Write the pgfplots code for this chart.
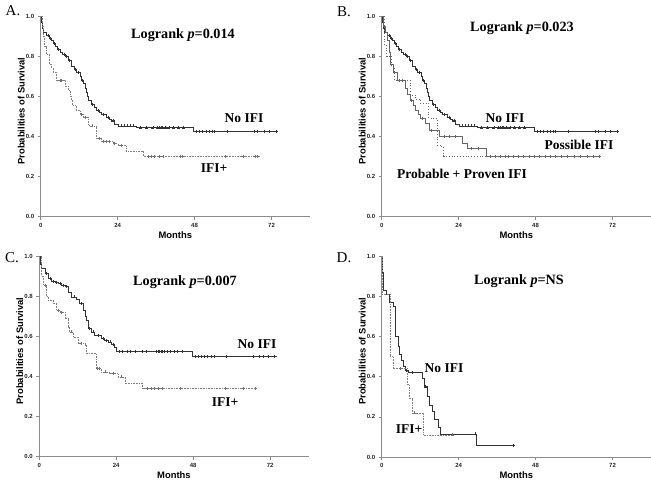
\documentclass[border=0pt]{standalone}
\usepackage{fontspec}
\setmainfont{Liberation Serif}
\setsansfont{Liberation Sans}
\usepackage{pgfplots}
\usepackage{pgfplotstable}
\pgfplotsset{compat=1.18}

\pgfplotstableread{
t S
0 1.0
0.3 0.97
0.6 0.94
0.9 0.92
1.9 0.905
2.8 0.89
3.4 0.88
4.0 0.865
4.5 0.85
5.2 0.835
6.0 0.82
6.8 0.81
7.6 0.80
8.6 0.78
9.6 0.75
10.4 0.735
11.2 0.72
12.2 0.70
12.8 0.68
13.3 0.665
13.8 0.64
14.1 0.62
14.5 0.60
14.8 0.58
15.9 0.56
16.6 0.545
17.4 0.53
18.2 0.52
19.0 0.51
20.5 0.495
21.4 0.485
22.1 0.478
23.1 0.46
24.1 0.452
29.8 0.443
47.6 0.424
74.0 0.424
}\noifiA

\pgfplotstableread{
t S
2.3 0.905
3.0 0.89
4.2 0.865
5.5 0.835
7.2 0.81
8.0 0.80
9.0 0.78
10.8 0.735
11.6 0.72
13.0 0.68
16.2 0.56
17.8 0.53
19.5 0.51
21.0 0.495
22.5 0.478
25 0.452
26 0.452
27 0.452
28 0.452
29 0.452
31 0.443
33 0.443
35 0.443
36.5 0.443
37 0.443
37.5 0.443
38 0.443
39 0.443
40 0.443
41.5 0.443
43 0.443
44.5 0.443
48.5 0.424
49.5 0.424
50.5 0.424
51.5 0.424
52.5 0.424
53.5 0.424
54.2 0.424
58.3 0.424
66.6 0.424
67.6 0.424
69.7 0.424
71.3 0.424
73.4 0.424
}\noifiAc

\pgfplotstableread{
t S
0 1.0
0.5 0.95
0.83 0.90
1.2 0.85
1.87 0.81
2.7 0.76
3.4 0.74
3.9 0.72
5.0 0.68
7.6 0.65
8.6 0.63
9.1 0.60
9.5 0.58
9.9 0.556
11.0 0.53
12.2 0.51
13.2 0.495
14.8 0.457
15.3 0.452
17.4 0.39
19.0 0.374
22.6 0.365
24.1 0.354
26.7 0.327
31.9 0.302
68.2 0.302
}\ifiA

\pgfplotstableread{
t S
6.0 0.68
6.5 0.68
12.8 0.51
14.0 0.495
16.0 0.452
18.2 0.39
19.5 0.374
20.3 0.374
21.5 0.374
23.0 0.365
25.0 0.354
33.5 0.302
34.5 0.302
35.5 0.302
37.1 0.302
38.1 0.302
43.5 0.302
44.3 0.302
57.5 0.302
63.2 0.302
66.8 0.302
67.7 0.302
}\ifiAc

\pgfplotstableread{
t S
0 1
0.5 0.95
1.0 0.92
1.6 0.88
2.2 0.82
2.8 0.76
3.5 0.72
4.7 0.68
7.3 0.64
8.0 0.61
8.9 0.58
9.7 0.555
10.5 0.53
11.3 0.51
12.1 0.49
13.7 0.465
14.7 0.43
17.9 0.40
25.2 0.365
26.8 0.34
32.6 0.302
68.4 0.302
}\possB

\pgfplotstableread{
t S
5.5 0.68
6.3 0.68
9.3 0.58
12.8 0.49
15.5 0.43
19.5 0.40
21 0.40
23 0.40
28 0.34
30 0.34
34 0.302
35.5 0.302
37 0.302
38.5 0.302
39.5 0.302
41 0.302
42.5 0.302
44 0.302
46 0.302
47.5 0.302
49 0.302
51 0.302
52.5 0.302
54 0.302
56 0.302
58 0.302
60 0.302
62 0.302
64 0.302
66 0.302
68 0.302
}\possBc

\pgfplotstableread{
t S
0 1
0.8 0.86
1.5 0.80
3.1 0.75
3.9 0.68
8.9 0.606
10.5 0.585
12.1 0.565
14.7 0.49
17.4 0.357
18.4 0.349
19.4 0.302
32.6 0.302
}\probB

\pgfplotstableread{
t S
0 1
0.3 0.96
0.72 0.937
1.76 0.912
2.8 0.887
3.8 0.875
4.9 0.87
5.9 0.862
7.0 0.855
8.0 0.849
9.0 0.82
10.0 0.796
11.6 0.783
12.6 0.763
13.6 0.73
14.2 0.70
14.7 0.68
15.2 0.64
16.2 0.622
17.3 0.605
19.3 0.589
20.4 0.58
21.4 0.572
22.4 0.56
23.5 0.547
24.0 0.525
47.6 0.50
74.0 0.50
}\noifiC

\pgfplotstableread{
t S
2.2 0.912
3.3 0.887
4.3 0.875
5.4 0.87
6.5 0.862
7.5 0.855
8.5 0.849
10.8 0.796
13.0 0.763
15.7 0.64
16.8 0.622
18.3 0.605
19.8 0.589
21 0.58
22 0.572
23 0.56
25 0.525
26 0.525
27.5 0.525
28.5 0.525
30 0.525
32 0.525
33.5 0.525
36.5 0.525
37 0.525
37.5 0.525
38 0.525
38.5 0.525
39 0.525
40 0.525
41 0.525
42 0.525
43 0.525
44.5 0.525
48.5 0.50
49.5 0.50
50.5 0.50
51.5 0.50
52.5 0.50
53.5 0.50
54.5 0.50
58.2 0.50
66.6 0.50
68.5 0.50
70 0.50
71.5 0.50
73.4 0.50
}\noifiCc

\pgfplotstableread{
t S
0 1
0.72 0.90
1.24 0.854
2.27 0.80
2.8 0.78
4.3 0.763
5.4 0.73
6.4 0.72
8.0 0.688
9.0 0.647
9.5 0.622
10.5 0.597
12.1 0.564
14.2 0.556
14.7 0.514
17.8 0.44
19.3 0.423
21.9 0.415
24.5 0.398
26.8 0.365
32.2 0.34
67.9 0.34
}\ifiC

\pgfplotstableread{
t S
2.0 0.854
5.9 0.73
7.0 0.72
10.0 0.622
13.0 0.564
18.2 0.44
18.7 0.44
20.5 0.423
23.0 0.415
25.5 0.398
33.8 0.34
34.8 0.34
35.8 0.34
37.2 0.34
38.4 0.34
44.1 0.34
58.0 0.34
63.7 0.34
67.4 0.34
}\ifiCc

\pgfplotstableread{
t S
0 1
0.3 0.92
0.5 0.83
1.5 0.81
2.4 0.77
3.5 0.75
4.1 0.60
5.2 0.55
5.6 0.51
6.0 0.48
6.6 0.45
7.4 0.43
8.2 0.42
12.6 0.39
13.3 0.35
14.2 0.30
14.9 0.26
15.8 0.23
16.5 0.19
17.5 0.15
18.2 0.115
29.4 0.058
41.0 0.058
}\noifiD

\pgfplotstableread{
t S
7.6 0.43
9.5 0.42
13.6 0.35
29.1 0.115
41.0 0.058
}\noifiDc

\pgfplotstableread{
t S
0 1
0.3 0.81
2.6 0.50
3.5 0.44
8.1 0.36
8.7 0.29
9.5 0.22
13.1 0.11
22.0 0.11
}\ifiD

\pgfplotstableread{
t S
5.8 0.44
10.3 0.22
22.0 0.11
}\ifiDc

\pgfplotsset{
  kmaxis/.style={
    scale only axis, width=269.3pt, height=200.7pt,
    xmin=0, xmax=84, ymin=0, ymax=1,
    axis x line=bottom, axis y line=left,
    axis line style={-, draw=black!45, line width=0.6pt},
    xtick={0,24,48,72}, ytick={0,0.2,0.4,0.6,0.8,1},
    tick align=outside, major tick length=3pt,
    tick style={black!45, line width=0.6pt},
    yticklabel style={/pgf/number format/.cd, fixed, fixed zerofill, precision=1},
    /pgf/number format/assume math mode=true,
    tick label style={font=\sffamily\bfseries\fontsize{6}{7}\selectfont, text=black!85},
    xlabel={Months}, ylabel={Probabilities of Survival},
    label style={font=\sffamily\bfseries\fontsize{9.4}{11}\selectfont},
    xlabel style={at={(axis description cs:0.5,-0.0922)}, anchor=center},
    ylabel style={at={(axis description cs:-0.0724,0.527)}, anchor=center},
    clip=false,
  },
  noifi/.style={const plot, draw=black!80, line width=0.6pt, mark=none},
  ifi/.style={const plot, draw=black!50, line width=0.6pt, densely dotted, mark=none},
  poss/.style={const plot, draw=black!60, line width=0.5pt, mark=none},
  cens/.style={only marks, mark=+, mark size=1.5pt, mark options={line width=0.5pt}},
}

\begin{document}
\begin{tikzpicture}
\useasboundingbox (0,0) rectangle (651pt,482pt);

% Panel A
\begin{axis}[kmaxis, at={(40.7pt,265.3pt)}, anchor=south west]
\addplot[noifi] table[x=t,y=S] {\noifiA};
\addplot[cens, black!80] table[x=t,y=S] {\noifiAc};
\addplot[ifi] table[x=t,y=S] {\ifiA};
\addplot[cens, black!55] table[x=t,y=S] {\ifiAc};
\end{axis}

% Panel B
\begin{axis}[kmaxis, at={(381.7pt,265.3pt)}, anchor=south west]
\addplot[noifi] table[x=t,y=S] {\noifiA};
\addplot[cens, black!80] table[x=t,y=S] {\noifiAc};
\addplot[poss] table[x=t,y=S] {\possB};
\addplot[cens, black!60] table[x=t,y=S] {\possBc};
\addplot[const plot, draw=black!60, line width=0.8pt, dotted] table[x=t,y=S] {\probB};
\end{axis}

% Panel C
\begin{axis}[kmaxis, at={(39.3pt,25.3pt)}, anchor=south west]
\addplot[noifi] table[x=t,y=S] {\noifiC};
\addplot[cens, black!80] table[x=t,y=S] {\noifiCc};
\addplot[ifi] table[x=t,y=S] {\ifiC};
\addplot[cens, black!55] table[x=t,y=S] {\ifiCc};
\end{axis}

% Panel D
\begin{axis}[kmaxis, at={(381.7pt,25pt)}, anchor=south west]
\addplot[noifi] table[x=t,y=S] {\noifiD};
\addplot[cens, black!80] table[x=t,y=S] {\noifiDc};
\addplot[ifi] table[x=t,y=S] {\ifiD};
\addplot[cens, black!55] table[x=t,y=S] {\ifiDc};
\end{axis}

\tikzset{lab/.style={font=\bfseries\fontsize{13.5}{15}\selectfont, inner sep=0pt},
         lr/.style={font=\bfseries\fontsize{14.2}{16}\selectfont, inner sep=0pt},
         pan/.style={font=\fontsize{15}{17}\selectfont, inner sep=0pt}}
% panel letters
\node[pan] at (13pt,471pt) {A.};
\node[pan] at (344pt,470.7pt) {B.};
\node[pan] at (12pt,224.5pt) {C.};
\node[pan] at (344pt,224.5pt) {D.};
% logrank texts
\node[lr] at (183pt,447pt) {Logrank \textit{p}=0.014};
\node[lr] at (522pt,454pt) {Logrank \textit{p}=0.023};
\node[lr] at (185pt,200pt) {Logrank \textit{p}=0.007};
\node[lr] at (519pt,201pt) {Logrank \textit{p}=NS};
% curve labels
\node[lab] at (244pt,364pt) {No IFI};
\node[lab] at (214pt,314pt) {IFI+};
\node[lab] at (505pt,364pt) {No IFI};
\node[lab] at (579pt,337pt) {Possible IFI};
\node[lab] at (462pt,308pt) {Probable + Proven IFI};
\node[lab] at (257pt,138pt) {No IFI};
\node[lab] at (225pt,80pt) {IFI+};
\node[lab] at (444pt,114pt) {No IFI};
\node[lab] at (409pt,53pt) {IFI+};
\end{tikzpicture}
\end{document}
